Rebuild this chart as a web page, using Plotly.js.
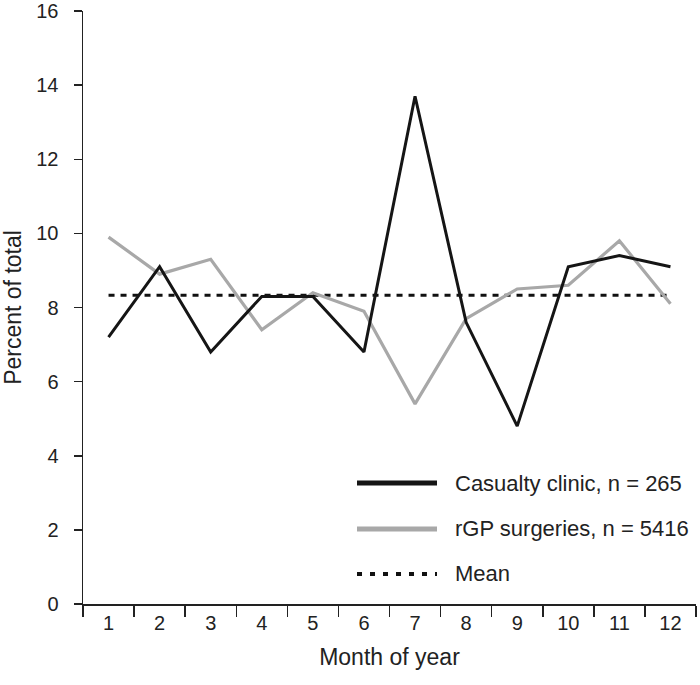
<!DOCTYPE html>
<html>
<head>
<meta charset="utf-8">
<script src="https://cdn.plot.ly/plotly-3.0.1.min.js"></script>
<style>html,body{margin:0;padding:0;background:#fff;}#chart{width:700px;height:685px;}</style>
</head>
<body>
<div id="chart"></div>
<script>
const months = ['1','2','3','4','5','6','7','8','9','10','11','12'];
const casualty = [7.2, 9.1, 6.8, 8.3, 8.3, 6.8, 13.7, 7.6, 4.8, 9.1, 9.4, 9.1];
const rgp = [9.9, 8.9, 9.3, 7.4, 8.4, 7.9, 5.4, 7.7, 8.5, 8.6, 9.8, 8.1];
const meanValue = 8.33;
const meanSeries = months.map(() => meanValue);
const seriesNames = ['Casualty clinic, n = 265', 'rGP surgeries, n = 5416', 'Mean'];
const seriesColors = ['#151515', '#a8a8a8', '#111111'];

const FONT = 'Liberation Sans, Arial, sans-serif';

const traces = [
  {x: months, y: meanSeries, type: 'scatter', mode: 'lines', name: seriesNames[2],
   line: {color: seriesColors[2], width: 3, dash: '6px,6px'}, showlegend: false},
  {x: months, y: rgp, type: 'scatter', mode: 'lines', name: seriesNames[1],
   line: {color: seriesColors[1], width: 3.2}, showlegend: false},
  {x: months, y: casualty, type: 'scatter', mode: 'lines', name: seriesNames[0],
   line: {color: seriesColors[0], width: 3}, showlegend: false}
];

// manual legend (paper coords)
const L = {x0: 0.447, x1: 0.5775, tx: 0.6036, rows: [0.204, 0.1265, 0.0506]};
const legendShapes = [
  {type: 'line', xref: 'paper', yref: 'paper', x0: L.x0, x1: L.x1, y0: L.rows[0], y1: L.rows[0],
   line: {color: seriesColors[0], width: 5}},
  {type: 'line', xref: 'paper', yref: 'paper', x0: L.x0, x1: L.x1, y0: L.rows[1], y1: L.rows[1],
   line: {color: seriesColors[1], width: 5}},
  {type: 'line', xref: 'paper', yref: 'paper', x0: L.x0, x1: L.x1, y0: L.rows[2], y1: L.rows[2],
   line: {color: seriesColors[2], width: 4, dash: '5px,8px'}}
];
const legendAnn = seriesNames.map((n, i) => ({
  xref: 'paper', yref: 'paper', x: L.tx, y: L.rows[i], xanchor: 'left', yanchor: 'middle',
  text: n, showarrow: false, font: {family: FONT, size: 22, color: '#222'}
}));

const layout = {
  width: 700, height: 685,
  margin: {l: 83, r: 4, t: 11, b: 81},
  paper_bgcolor: '#fff', plot_bgcolor: '#fff',
  showlegend: false,
  font: {family: FONT, color: '#222', size: 20},
  xaxis: {
    type: 'category', tickson: 'boundaries', range: [-0.5, 11.5],
    showline: true, linecolor: '#222', linewidth: 1.5,
    ticks: 'outside', ticklen: 11, tickwidth: 1.5, tickcolor: '#222',
    showgrid: false, zeroline: false,
    tickfont: {family: FONT, size: 20, color: '#222'},
    title: {text: 'Month of year', font: {family: FONT, size: 23, color: '#222'}, standoff: 16}
  },
  yaxis: {
    range: [0, 16], dtick: 2, tick0: 0,
    showline: true, linecolor: '#222', linewidth: 1.5,
    ticks: 'outside', ticklen: 8, tickwidth: 1.5, tickcolor: '#222',
    ticklabelstandoff: 11,
    showgrid: false, zeroline: false,
    tickfont: {family: FONT, size: 20, color: '#222'},
    title: {text: 'Percent of total', font: {family: FONT, size: 23, color: '#222'}, standoff: 17}
  },
  shapes: legendShapes,
  annotations: legendAnn
};

Plotly.newPlot('chart', traces, layout, {displayModeBar: false, staticPlot: true});
</script>
</body>
</html>
